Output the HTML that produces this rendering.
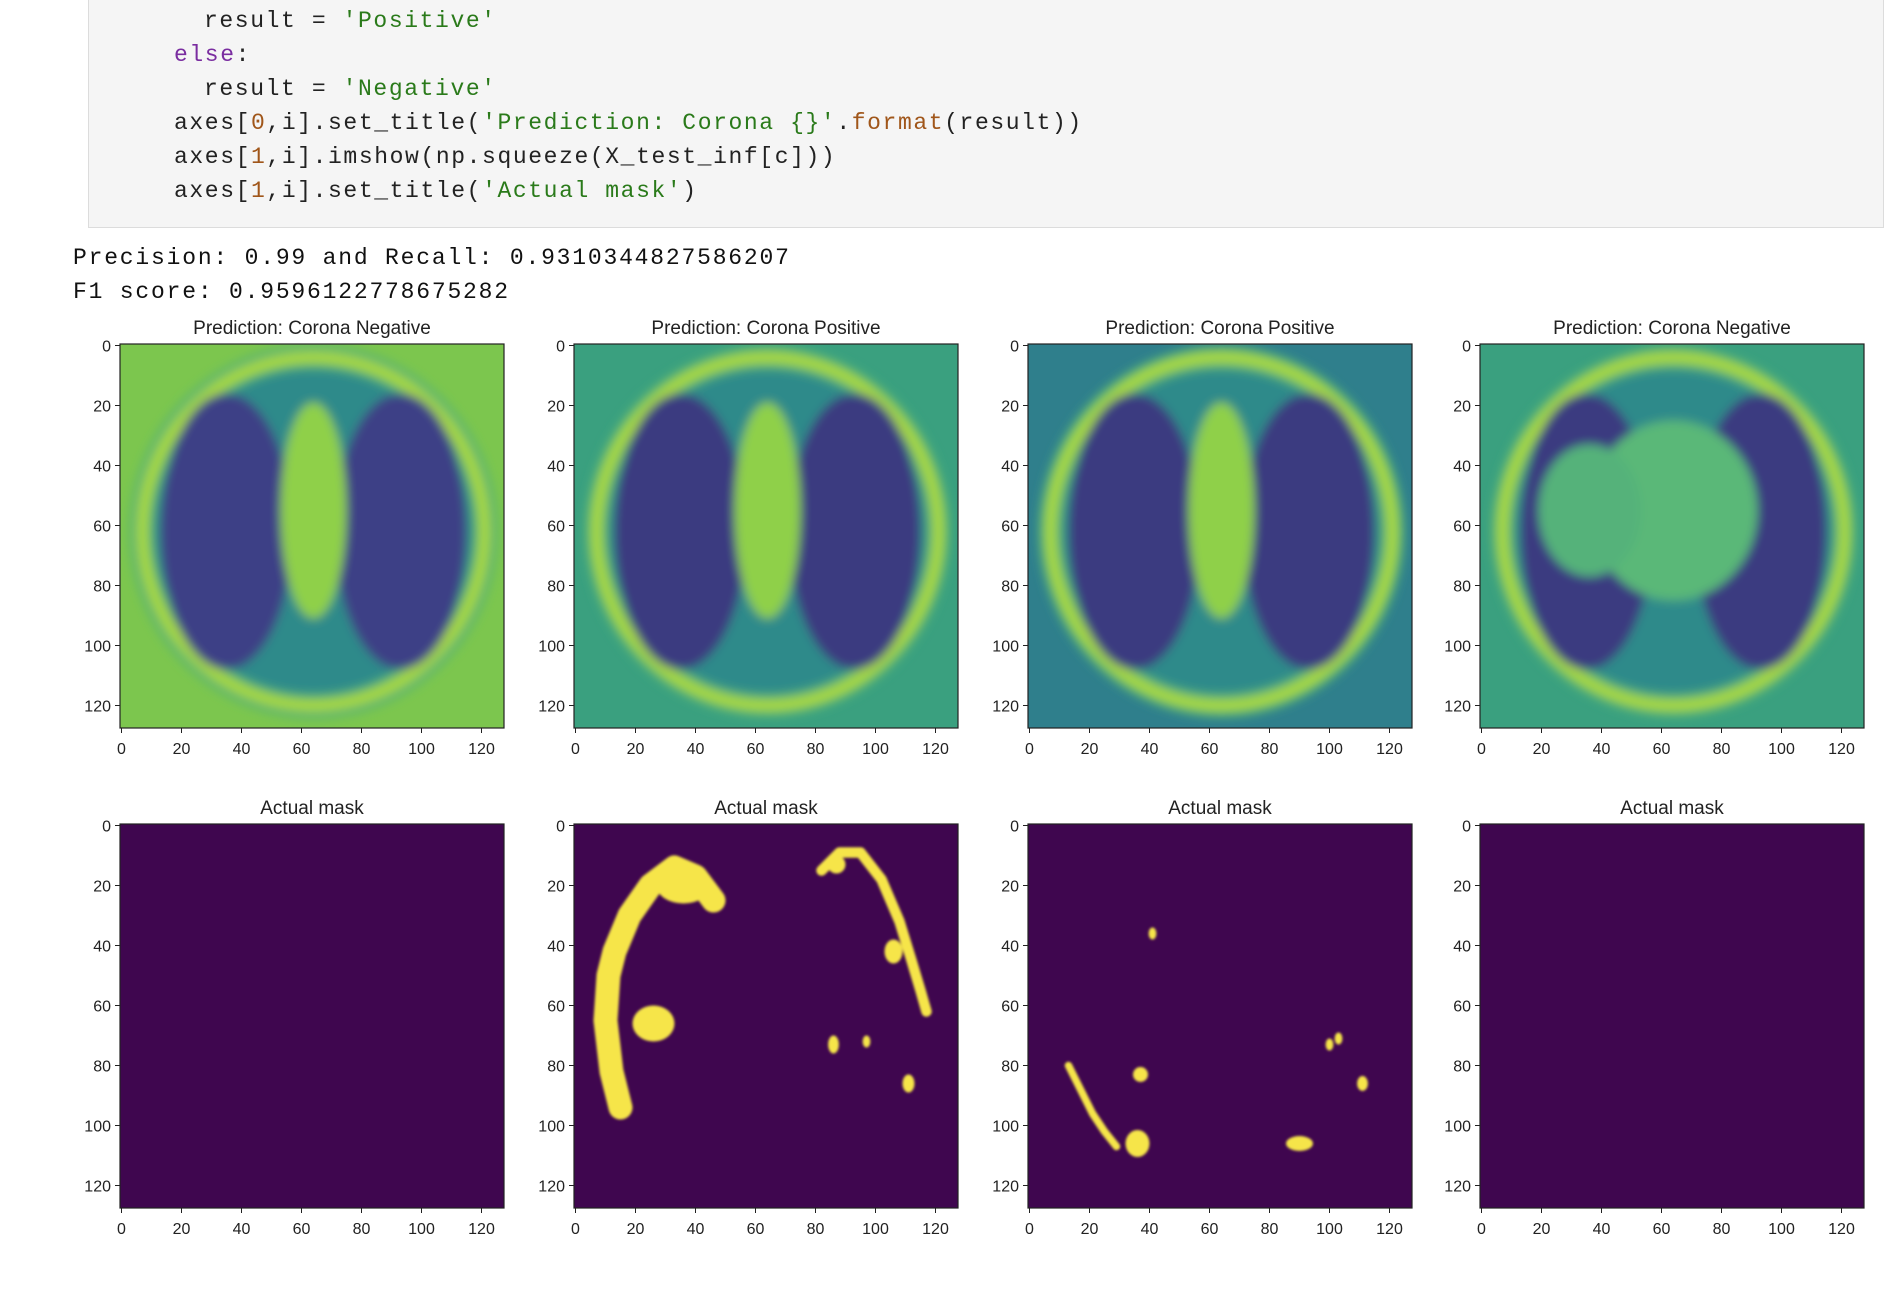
<!DOCTYPE html>
<html><head><meta charset="utf-8">
<style>
html,body{margin:0;padding:0;background:#fff;}
body{width:1898px;height:1314px;position:relative;overflow:hidden;font-family:"Liberation Sans",sans-serif;}
.code{position:absolute;left:88px;top:-2px;width:1796px;height:230px;background:#f5f5f5;border:1px solid #dcdcdc;box-sizing:border-box;}
.ln{position:absolute;font-family:"Liberation Mono",monospace;font-size:23px;letter-spacing:1.6px;color:#222;white-space:pre;line-height:30px;}
.k{color:#7a2da0}.s{color:#2a7a1a}.n{color:#a0561a}
.out{position:absolute;left:73px;font-family:"Liberation Mono",monospace;font-size:23px;letter-spacing:1.8px;color:#111;white-space:pre;line-height:30px;}
</style></head>
<body>
<div class="code"></div>
<div class="ln" style="left:204px;top:6px">result = <span class="s">'Positive'</span></div>
<div class="ln" style="left:174px;top:40px"><span class="k">else</span>:</div>
<div class="ln" style="left:204px;top:74px">result = <span class="s">'Negative'</span></div>
<div class="ln" style="left:174px;top:108px">axes[<span class="n">0</span>,i].set_title(<span class="s">'Prediction: Corona {}'</span>.<span class="n">format</span>(result))</div>
<div class="ln" style="left:174px;top:142px">axes[<span class="n">1</span>,i].imshow(np.squeeze(X_test_inf[c]))</div>
<div class="ln" style="left:174px;top:176px">axes[<span class="n">1</span>,i].set_title(<span class="s">'Actual mask'</span>)</div>
<div class="out" style="top:243px">Precision: 0.99 and Recall: 0.9310344827586207</div>
<div class="out" style="top:277px">F1 score: 0.9596122778675282</div>

<svg id="fig" width="1898" height="1314" style="position:absolute;left:0;top:0">
<defs>
<filter id="blur"><feGaussianBlur stdDeviation="5"/></filter>
<filter id="mblur"><feGaussianBlur stdDeviation="1.2"/></filter>
</defs>
</svg>
<script>
const NS='http://www.w3.org/2000/svg';
const svg=document.getElementById('fig');
const titles=['Prediction: Corona Negative','Prediction: Corona Positive','Prediction: Corona Positive','Prediction: Corona Negative'];
const maskTitle='Actual mask';
const tickValues=[0,20,40,60,80,100,120];
const tickLabels=['0','20','40','60','80','100','120'];
const extentMin=-0.5, extentMax=127.5;
// mask blobs: [panel, cx, cy, rx, ry]
const maskBlobPanels=[1,1,1,1,1,1,1,2,2,2,2,2,2,2];
const maskBlobX=[36,26,86,97,111,106,87,41,37,36,90,100,103,111];
const maskBlobY=[20,66,73,72,86,42,13,36,83,106,106,73,71,86];
const maskBlobRX=[9,7,1.8,1.3,2,3,3,1.3,2.5,4,4.5,1.3,1.3,1.8];
const maskBlobRY=[6,6,3,2,3,4,3,2,2.5,4.5,2.5,2,2,2.5];
// mask strokes: panel, polyline x, polyline y, width (data units)
const strokePanels=[1,1,2];
const strokeX=[[15,12,10,11,13,18,25,33,40,46],[82,88,95,102,108,112,115,117],[13,17,21,25,29]];
const strokeY=[[94,82,65,50,42,30,20,14,17,25],[15,9,9,18,32,45,55,62],[80,88,96,102,107]];
const strokeW=[8,3.5,2.5];
const colLeft=[120,574,1028,1480];
const rowTop=[344,824];
const size=384;
function el(tag,attrs,parent){const e=document.createElementNS(NS,tag);for(const k in attrs)e.setAttribute(k,attrs[k]);(parent||svg).appendChild(e);return e;}
function sc(v,o){return o+(v-extentMin)/(extentMax-extentMin)*size;}
const u=size/128;
function axes(x0,y0,title,idx,row){
  const g=el('g',{});
  
  
  if(row===0){
    const cp=el('clipPath',{id:'cp'+idx},g);
    el('rect',{x:x0,y:y0,width:size,height:size},cp);
    const ig=el('g',{'clip-path':'url(#cp'+idx+')'},g);
    const b=el('rect',{x:x0,y:y0,width:size,height:size,fill:idx===0?'#7cc64e':(idx===2?'#2f7f8c':'#3aa07f')},ig);
    
    const bl=el('g',{filter:'url(#blur)'},ig);
    el('ellipse',{cx:sc(64,x0),cy:sc(62,y0),rx:61*u,ry:62*u,fill:'#4cae78'},bl);
    el('ellipse',{cx:sc(64,x0),cy:sc(62,y0),rx:57*u,ry:58*u,fill:'none',stroke:'#a8d93c','stroke-width':4*u},bl);
    el('ellipse',{cx:sc(64,x0),cy:sc(62,y0),rx:53*u,ry:54*u,fill:'#2f8a8a'},bl);
    const lc=idx===0?'#3e3f86':'#3b3a80';
    el('ellipse',{cx:sc(35,x0),cy:sc(62,y0),rx:22*u,ry:46*u,fill:lc},bl);
    el('ellipse',{cx:sc(93,x0),cy:sc(62,y0),rx:22*u,ry:46*u,fill:lc},bl);
    el('ellipse',{cx:sc(64,x0),cy:sc(55,y0),rx:idx===3?28*u:11*u,ry:idx===3?30*u:36*u,fill:idx===3?'#5ab878':'#8fd04a'},bl);
    if(idx===3){el('ellipse',{cx:sc(36,x0),cy:sc(55,y0),rx:17*u,ry:22*u,fill:'#55b27a'},bl);}
  } else {
    const b=el('rect',{x:x0,y:y0,width:size,height:size,fill:'#3f064f'},g);
    
    const mg=el('g',{filter:'url(#mblur)'},g);
    for(let i=0;i<maskBlobPanels.length;i++){ if(maskBlobPanels[i]!==idx) continue;
      const e=el('ellipse',{cx:sc(maskBlobX[i],x0),cy:sc(maskBlobY[i],y0),rx:maskBlobRX[i]*u,ry:maskBlobRY[i]*u,fill:'#f6e54a'},mg);
      
      
    }
    for(let i=0;i<strokePanels.length;i++){ if(strokePanels[i]!==idx) continue;
      const pts=strokeX[i].map((x,j)=>sc(x,x0)+','+sc(strokeY[i][j],y0)).join(' ');
      const p=el('polyline',{points:pts,fill:'none',stroke:'#f6e54a','stroke-width':strokeW[i]*u,'stroke-linecap':'round','stroke-linejoin':'round'},mg);
      
      
    }
  }
  el('rect',{x:x0,y:y0,width:size,height:size,fill:'none',stroke:'#222','stroke-width':1.2},g);
  const t=el('text',{x:x0+size/2,y:y0-10,'text-anchor':'middle','font-size':19,fill:'#222'},g);
  t.textContent=title;
  
  for(let i=0;i<tickValues.length;i++){
    const xx=sc(tickValues[i],x0), yy=sc(tickValues[i],y0);
    el('line',{x1:xx,x2:xx,y1:y0+size,y2:y0+size+5,stroke:'#222'},g);
    const tx=el('text',{x:xx,y:y0+size+26,'text-anchor':'middle','font-size':16,fill:'#222'},g);
    tx.textContent=tickLabels[i];
    
    el('line',{x1:x0-5,x2:x0,y1:yy,y2:yy,stroke:'#222'},g);
    const ty=el('text',{x:x0-9,y:yy+6,'text-anchor':'end','font-size':16,fill:'#222'},g);
    ty.textContent=tickLabels[i];
    
  }
}
for(let c=0;c<4;c++){axes(colLeft[c],rowTop[0],titles[c],c,0);axes(colLeft[c],rowTop[1],maskTitle,c,1);}
</script>
</body></html>
